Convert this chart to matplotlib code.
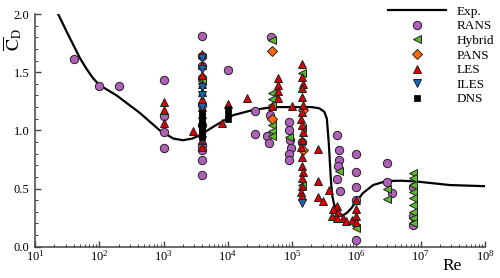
import numpy as np
import matplotlib
matplotlib.use('Agg')
import matplotlib.pyplot as plt
from matplotlib.ticker import FixedLocator, MultipleLocator, NullFormatter, LogFormatterSciNotation

plt.rcParams['font.family'] = ['Liberation Serif', 'DejaVu Serif']
plt.rcParams['mathtext.fontset'] = 'stix'

# experimental curve
exp_logre = [1.36, 1.5, 1.6, 1.7, 1.8, 1.9, 2.0, 2.27, 2.63, 2.94, 3.15, 3.3, 3.45, 3.57, 3.8, 4.08, 4.39,
             4.7, 5.0, 5.3, 5.42, 5.5, 5.54, 5.57, 5.6, 5.62, 5.65, 5.69, 5.74, 5.79, 5.85,
             5.92, 6.0, 6.1, 6.26, 6.47, 6.7, 6.94, 7.45, 8.0]
exp_cd = [2.0, 1.84, 1.73, 1.62, 1.53, 1.45, 1.39, 1.30, 1.15, 1.0, 0.93, 0.915, 0.93, 0.96, 1.04, 1.13, 1.175,
          1.20, 1.20, 1.20, 1.19, 1.16, 1.10, 0.89, 0.60, 0.45, 0.37, 0.31, 0.28, 0.27, 0.29,
          0.33, 0.39, 0.46, 0.53, 0.565, 0.567, 0.56, 0.53, 0.52]

rans_re = [40, 100, 200,
           1e3, 1e3, 1e3, 1e3,
           3.9e3, 3.9e3, 3.9e3, 3.9e3, 3.9e3, 3.9e3, 3.9e3, 3.9e3, 3.9e3, 3.9e3,
           1e4, 2.6e4, 2.6e4, 4e4, 4.4e4, 4.7e4, 4.5e4,
           9e4, 9e4, 9.2e4, 9.5e4, 9e4, 9e4, 1.4e5,
           4.9e5, 5.35e5, 5.35e5, 5.2e5, 4.9e5, 5.5e5,
           1e6, 1e6, 1e6, 1e6, 1e6,
           3e6, 3e6, 3.6e6,
           7.7e6, 7.7e6, 7.7e6]
rans_cd = [1.61, 1.38, 1.38,
           1.43, 1.12, 0.99, 0.85,
           1.81, 1.64, 1.55, 1.45, 1.22, 1.05, 0.87, 0.83, 0.745, 0.62,
           1.52, 1.17, 0.97, 0.95, 0.89, 1.80, 1.13,
           1.075, 1.0, 0.92, 0.85, 0.80, 0.745, 0.9,
           0.96, 0.83, 0.745, 0.69, 0.58, 0.48,
           0.795, 0.645, 0.516, 0.40, 0.058,
           0.717, 0.56, 0.46,
           0.516, 0.264, 0.187]

hyb_re = [3.9e3,
          4.8e4, 4.8e4, 4.8e4, 4.8e4, 4.8e4, 4.8e4, 4.8e4,
          1.4e5, 1.4e5, 8.8e4, 1.4e5,
          5.3e5, 1e6, 3e6, 3e6,
          7.7e6, 7.7e6, 7.7e6, 7.7e6, 7.7e6, 7.7e6, 7.7e6, 7.7e6, 7.7e6]
hyb_cd = [1.42,
          1.78, 1.32, 1.27, 1.22, 1.05, 0.995, 0.95,
          1.49, 1.02, 0.945, 0.53,
          0.65, 0.163, 0.50, 0.41,
          0.636, 0.588, 0.53, 0.473, 0.416, 0.36, 0.30, 0.244, 0.20]

pans_re = [4.9e4, 4.9e4, 1.45e5, 1.45e5]
pans_cd = [1.68, 1.10, 1.175, 0.83]

les_re = [1e3, 1e3, 1e3,
          3.9e3, 3.9e3, 3.9e3, 3.9e3, 3.9e3, 3.9e3, 3.9e3, 3.9e3, 3.9e3, 3.9e3, 3.9e3,
          2.9e3, 8e3, 1e4, 2e4,
          6.1e4, 6.1e4, 6.1e4, 6.1e4, 4.9e4, 9.8e4,
          1.4e5, 1.4e5, 1.45e5, 1.4e5, 1.4e5, 1.45e5, 1.4e5, 1.35e5, 1.4e5, 1.45e5,
          1.4e5, 1.35e5, 1.4e5, 1.4e5, 1.45e5, 1.4e5, 1.4e5, 1.35e5, 1.4e5,
          2.5e5, 2.5e5, 2.5e5, 3.05e5, 3.7e5,
          4.9e5, 4.36e5, 5.2e5, 4.1e5, 4.9e5, 6.2e5, 7e5, 8.4e5,
          1e6, 1e6, 1e6, 1e6]
les_cd = [1.24, 1.175, 1.06,
          1.66, 1.56, 1.48, 1.40, 1.33, 1.27, 1.20, 1.14, 1.08, 0.92, 0.86,
          0.995, 1.066, 1.23, 1.276,
          1.45, 1.39, 1.34, 1.28, 1.21, 1.21,
          1.57, 1.46, 1.40, 1.36, 1.29, 1.22, 1.16, 1.10, 1.05, 0.99,
          0.92, 0.86, 0.77, 0.69, 0.645, 0.59, 0.52, 0.47, 0.44,
          0.84, 0.567, 0.43, 0.39, 0.49,
          0.35, 0.32, 0.30, 0.264, 0.25, 0.244, 0.224, 0.23,
          0.40, 0.32, 0.264, 0.215]

iles_re = [3.9e3, 3.9e3, 3.9e3, 3.9e3, 3.9e3, 3.9e3, 1.4e5]
iles_cd = [1.62, 1.53, 1.375, 1.30, 1.20, 0.92, 0.373]

dns_re = [3.9e3] * 10 + [1e4, 1e4, 1e4]
dns_cd = [1.15, 1.12, 1.10, 1.07, 1.05, 1.03, 1.0, 0.98, 0.96, 0.94, 1.18, 1.14, 1.10]

fig = plt.figure(figsize=(5.0, 2.78), dpi=100)
ax = fig.add_axes([0.07, 0.1126, 0.90, 0.837])

ax.plot(10 ** np.array(exp_logre), exp_cd, color='black', lw=1.6, label='Exp.', zorder=2)

ms = 6
ax.plot(rans_re, rans_cd, 'o', ms=ms, mfc='#B060B8', mec='#222222', mew=0.7, label='RANS', zorder=3)
ax.plot(hyb_re, hyb_cd, '<', ms=ms, mfc='#5CB82C', mec='#222222', mew=0.7, label='Hybrid', zorder=3)
ax.plot(pans_re, pans_cd, 'D', ms=5, mfc='#FF6A10', mec='#222222', mew=0.7, label='PANS', zorder=3)
ax.plot(les_re, les_cd, '^', ms=ms, mfc='#DD0000', mec='#222222', mew=0.7, label='LES', zorder=4)
ax.plot(iles_re, iles_cd, 'v', ms=ms, mfc='#1466B4', mec='#222222', mew=0.7, label='ILES', zorder=4)
ax.plot(dns_re, dns_cd, 's', ms=4.5, mfc='black', mec='black', mew=0.5, label='DNS', zorder=5)

ax.set_xscale('log')
ax.set_xlim(10, 1e8)
ax.set_ylim(0, 2.0)
decades = np.arange(1, 9)
ax.xaxis.set_major_locator(FixedLocator(10.0 ** decades))
ax.xaxis.set_major_formatter(LogFormatterSciNotation())
ax.xaxis.set_minor_locator(FixedLocator([m * 10.0 ** d for d in decades[:-1] for m in range(2, 10)]))
ax.xaxis.set_minor_formatter(NullFormatter())
ax.yaxis.set_major_locator(MultipleLocator(0.5))
ax.yaxis.set_minor_locator(MultipleLocator(0.1))
ax.yaxis.set_major_formatter(matplotlib.ticker.FormatStrFormatter('%.1f'))

for s in ['top', 'right']:
    ax.spines[s].set_visible(False)
for s in ['left', 'bottom']:
    ax.spines[s].set_color('#444444')
    ax.spines[s].set_linewidth(1.1)
ax.tick_params(which='both', direction='in', color='#444444', labelsize=9)
ax.tick_params(which='major', length=4, width=1.0, pad=2)
ax.tick_params(which='minor', length=2.2, width=0.7)
ax.tick_params(axis='y', which='major', pad=4)

ax.text(0.927, -0.083, 'Re', transform=ax.transAxes, ha='center', va='center', fontsize=12.5)
ax.text(-0.05, 0.89, r'$\overline{\mathrm{C}}_{\mathrm{D}}$', transform=ax.transAxes,
        ha='center', va='center', rotation=90, fontsize=13)

ax.legend(loc='upper left', bbox_to_anchor=(0.776, 0.98), bbox_transform=fig.transFigure,
          frameon=False, fontsize=9.5, handlelength=4.4, handletextpad=0.8,
          labelspacing=0.18, borderpad=0, borderaxespad=0, numpoints=1)

fig.savefig('out.png', dpi=100)
